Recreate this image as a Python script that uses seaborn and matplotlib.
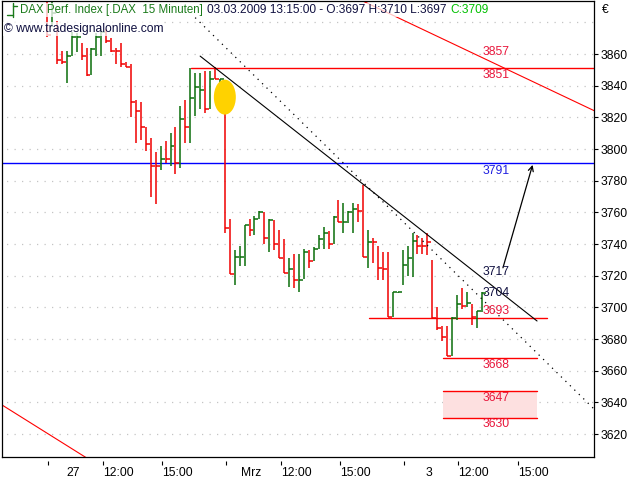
import matplotlib
matplotlib.use("Agg")
import matplotlib.pyplot as plt
import matplotlib.transforms as mtransforms
import seaborn as sns
import pandas as pd
from matplotlib.patches import Ellipse, Rectangle
from matplotlib.lines import Line2D

# 15-minute bars, 26.02. -> 03.03.2009
high = [3895, 3893, 3881, 3862, 3862, 3874, 3873, 3867, 3864, 3864,
        3873, 3876, 3876, 3870, 3864, 3867, 3855, 3854, 3831, 3830,
        3814, 3807, 3798, 3802, 3805, 3810, 3814, 3827, 3831, 3851,
        3848, 3848, 3849, 3849, 3852, 3844, 3838, 3756, 3736, 3739,
        3752, 3756, 3758, 3761, 3760, 3756, 3755, 3749, 3743, 3731,
        3734, 3734, 3737, 3736, 3738, 3746, 3751, 3748, 3758, 3768,
        3766, 3761, 3766, 3765, 3777, 3749, 3744, 3739, 3735, 3735,
        3710, 3710, 3736, 3739, 3747, 3746, 3744, 3747, 3730, 3700,
        3688, 3688, 3694, 3708, 3712, 3710, 3702, 3698, 3710]
low = [3871, 3877, 3854, 3854, 3842, 3859, 3861, 3856, 3846, 3847,
       3859, 3859, 3867, 3861, 3854, 3852, 3852, 3820, 3804, 3806,
       3799, 3770, 3765, 3787, 3791, 3789, 3784, 3788, 3804, 3804,
       3821, 3825, 3823, 3825, 3844, 3831, 3747, 3721, 3714, 3726,
       3726, 3745, 3746, 3756, 3740, 3735, 3736, 3731, 3722, 3713,
       3712, 3710, 3718, 3725, 3729, 3737, 3737, 3737, 3740, 3754,
       3747, 3753, 3747, 3754, 3732, 3725, 3728, 3717, 3717, 3694,
       3694, 3709, 3714, 3720, 3719, 3734, 3734, 3733, 3693, 3686,
       3679, 3669, 3669, 3692, 3699, 3700, 3689, 3687, 3697]
close = [3872, 3886, 3856, 3855, 3859, 3871, 3871, 3859, 3847, 3863,
         3871, 3874, 3868, 3862, 3862, 3854, 3852, 3830, 3824, 3814,
         3803, 3789, 3789, 3794, 3794, 3802, 3791, 3819, 3814, 3832,
         3839, 3837, 3825, 3844, 3844, 3844, 3750, 3721, 3732, 3732,
         3752, 3749, 3756, 3760, 3744, 3755, 3740, 3731, 3722, 3724,
         3717, 3717, 3735, 3729, 3737, 3743, 3747, 3740, 3757, 3754,
         3754, 3760, 3762, 3761, 3732, 3741, 3741, 3725, 3724, 3694,
         3710, 3710, 3727, 3731, 3742, 3739, 3739, 3741, 3693, 3687,
         3681, 3669, 3693, 3702, 3701, 3703, 3694, 3698, 3709]
direction = ("rgrrgggrrg" "ggrrrrrrrr" "rrrgrgrgrg" "ggrgrgrrgg" "grggrgrrrg"
             "rggrgggrgr" "gggrrgrrrr" "gggggrrrrr" "rrggrgrgg")

day_ticks = [0.3, 36.3, 72.3]
day_labels = ["27", "Mrz", "3"]
time_ticks = [11.3, 23.3, 47.3, 59.3, 83.3, 95.3]
time_labels = ["12:00", "15:00", "12:00", "15:00", "12:00", "15:00"]

# drawn levels / trendlines (bar index, price)
resist_3851 = ([29.1, 111], [3851, 3851])
level_3791 = ([-10, 111], [3791, 3791])
support_3693 = ([65.2, 101.2], [3693, 3693])
support_3668 = ([80.2, 99.2], [3668, 3668])
zone_bounds = (80.2, 99.2, 3630, 3647)
red_diag_top = ([60, 112], [3899.3, 3822.4])
red_diag_low = ([-10, 9], [3640.1, 3603.0])
trend_solid = ([31.0, 99.2], [3858.7, 3691.4])
trend_dotted = ([30.0, 111.0], [3883.0, 3635.0])
arrow_from = (92.3, 3725)
arrow_to = (98.3, 3790)

level_texts = ["3857", "3851", "3791", "3717", "3704", "3693", "3668", "3647", "3630"]
level_text_y = [3861.3, 3846.7, 3786.1, 3722.3, 3709.0, 3697.7, 3663.6, 3642.7, 3626.3]
level_text_col = ["#e8173c", "#e8173c", "#2020e0", "#101040", "#101040",
                  "#e8173c", "#e8173c", "#e8173c", "#e8173c"]

RED = "#f00000"
GREEN = "#0a6e0a"

bars = pd.DataFrame({"high": high, "low": low, "close": close,
                     "col": [RED if d == "r" else GREEN for d in direction]})
bars["idx"] = range(len(bars))

sns.set_theme(style="white")
plt.rcParams["font.family"] = ["Liberation Sans", "DejaVu Sans"]

fig = plt.figure(figsize=(6.4, 4.8), dpi=100)
ax = fig.add_axes([2 / 640, 23 / 480, 592 / 640, 456 / 480])
ax.set_xlim(-9.11, 110.73)
ax.set_ylim(3605.5, 3893.5)

# dotted price grid
ax.hlines(range(3620, 3881, 20), -10, 112, colors="#c4c4c4",
          linestyles=(0, (1, 5)), linewidth=0.9, zorder=0)

# levels
ax.plot(*level_3791, color="#0000ff", lw=1.0, zorder=1)
ax.plot(*resist_3851, color="#ff0000", lw=1.0, zorder=1)
ax.plot(*support_3693, color="#ff0000", lw=1.0, zorder=1)
ax.plot(*support_3668, color="#ff0000", lw=1.0, zorder=1)
x0, x1, y0, y1 = zone_bounds
ax.add_patch(Rectangle((x0, y0), x1 - x0, y1 - y0, facecolor="#fde0e0",
                       edgecolor="none", zorder=1))
ax.plot([x0, x1], [y1, y1], color="#ff0000", lw=1.0, zorder=1)
ax.plot([x0, x1], [y0, y0], color="#ff0000", lw=1.0, zorder=1)
ax.plot(*red_diag_top, color="#ff0000", lw=0.8, zorder=1)
ax.plot(*red_diag_low, color="#ff0000", lw=0.8, zorder=1)

# HLC bars
ax.vlines(bars["idx"], bars["low"], bars["high"], colors=bars["col"], lw=1.1, zorder=2)
ax.hlines(bars["close"], bars["idx"], bars["idx"] + 0.8, colors=bars["col"], lw=1.1, zorder=2)

# trendlines
ax.plot(*trend_solid, color="black", lw=0.8, zorder=3)
ax.plot(*trend_dotted, color="black", lw=0.9, linestyle=(0, (1, 4)), zorder=3)
ax.annotate("", xy=arrow_to, xytext=arrow_from,
            arrowprops=dict(arrowstyle="->", color="black", lw=0.9,
                            mutation_scale=9, shrinkA=0, shrinkB=0), zorder=4)

ax.add_patch(Ellipse((36.0, 3832.8), 4.45, 22.1, facecolor="#ffd200",
                     edgecolor="none", zorder=4))

for txt, yv, c in zip(level_texts, level_text_y, level_text_col):
    ax.text(88.2, yv, txt, color=c, fontsize=8.7, ha="left", va="center", zorder=5)

# axes styling
for s in ax.spines.values():
    s.set_color("black")
    s.set_linewidth(0.9)
ax.yaxis.tick_right()
ax.set_yticks(range(3620, 3861, 20))
ax.tick_params(axis="y", direction="out", length=3, width=0.8, pad=2,
               labelsize=8.7, colors="black", right=True, left=False)

ax.set_xticks([d + 5 for d in day_ticks] + time_ticks)
ax.set_xticklabels(day_labels + time_labels)
ax.tick_params(axis="x", length=0, pad=7, labelsize=8.7, colors="black")
for lbl in ax.get_xticklabels()[len(day_ticks):]:
    lbl.set_ha("left")
trans = mtransforms.blended_transform_factory(ax.transData, ax.transAxes)
ax.vlines(day_ticks + time_ticks, -4 / 456, -8 / 456, colors="black",
          lw=0.8, transform=trans, clip_on=False)
ax.grid(False)

# header
def fy(py):
    return 1 - py / 480

bg = dict(facecolor="white", alpha=0.75, edgecolor="none", pad=0.5)
fig.text(20 / 640, fy(10), "DAX Perf. Index [.DAX  15 Minuten]", color="#1a7a1a",
         fontsize=8.3, va="center", bbox=bg)
seg2 = fig.text(207 / 640, fy(10), "03.03.2009 13:15:00 - O:3697 H:3710 L:3697",
                color="#101040", fontsize=8.6, va="center", bbox=bg)
fig.canvas.draw()
seg2_end = seg2.get_window_extent().x1
fig.text((seg2_end + 4) / 640, fy(10), "C:3709", color="#00c000", fontsize=8.6,
         va="center", bbox=bg)
fig.text(4 / 640, fy(29), "\u00a9 www.tradesignalonline.com", color="#101040",
         fontsize=8.7, va="center", bbox=bg)
fig.text(602 / 640, fy(10), "\u20ac", color="black", fontsize=8.7, va="center")
for xs, ys in [([13, 13], [3, 17]), ([7, 13], [15, 15]), ([13, 17], [6, 6])]:
    fig.add_artist(Line2D([x / 640 for x in xs], [fy(y) for y in ys],
                          color="#1a7a1a", lw=1.0, transform=fig.transFigure))

fig.savefig("out.png", dpi=100)
